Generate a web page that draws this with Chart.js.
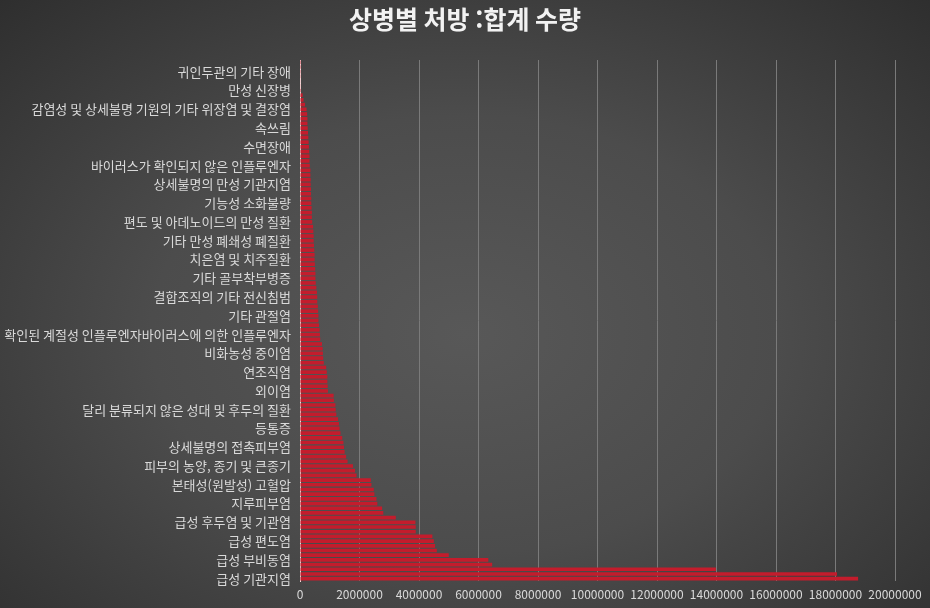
<!DOCTYPE html>
<html lang="ko">
<head>
<meta charset="utf-8">
<title>상병별 처방 :합계 수량</title>
<script src="https://cdn.jsdelivr.net/npm/chart.js@4/dist/chart.umd.min.js"></script>
<style>
  html, body { margin: 0; padding: 0; }
  body {
    width: 930px; height: 608px; overflow: hidden;
    background: radial-gradient(ellipse 75% 80% at 50% 55%, #585858 0%, #4c4c4c 45%, #2c2c2c 100%);
  }
  canvas { display: block; }
</style>
</head>
<body>
<canvas id="chart" width="930" height="608"></canvas>
<script>
// category labels shown on the axis (every 4th category, from the bottom up)
const shownNames = [
  '급성 기관지염', '급성 부비동염', '급성 편도염', '급성 후두염 및 기관염', '지루피부염',
  '본태성(원발성) 고혈압', '피부의 농양, 종기 및 큰종기', '상세불명의 접촉피부염', '등통증',
  '달리 분류되지 않은 성대 및 후두의 질환', '외이염', '연조직염', '비화농성 중이염',
  '확인된 계절성 인플루엔자바이러스에 의한 인플루엔자', '기타 관절염', '결합조직의 기타 전신침범',
  '기타 골부착부병증', '치은염 및 치주질환', '기타 만성 폐쇄성 폐질환', '편도 및 아데노이드의 만성 질환',
  '기능성 소화불량', '상세불명의 만성 기관지염', '바이러스가 확인되지 않은 인플루엔자', '수면장애',
  '속쓰림', '감염성 및 상세불명 기원의 기타 위장염 및 결장염', '만성 신장병', '귀인두관의 기타 장애'
];

// 합계 수량, largest first (bottom of the chart)
const quantities = [
  18760000, 18050000, 13980000, 6460000, 6330000, 5000000, 4600000, 4540000, 4500000, 4450000,
  3890000, 3890000, 3880000, 3220000, 2800000, 2760000, 2600000, 2570000, 2500000, 2480000,
  2400000, 2380000, 1900000, 1850000, 1780000, 1600000, 1550000, 1500000, 1480000, 1460000,
  1420000, 1360000, 1330000, 1310000, 1280000, 1220000, 1200000, 1190000, 1140000, 1130000,
  940000, 930000, 920000, 920000, 900000, 880000, 800000, 780000, 770000, 760000,
  740000, 680000, 670000, 660000, 640000, 620000, 620000, 610000, 600000, 580000,
  580000, 570000, 550000, 530000, 520000, 520000, 510000, 500000, 490000, 490000,
  480000, 470000, 460000, 460000, 450000, 440000, 410000, 400000, 400000, 390000,
  380000, 380000, 370000, 370000, 360000, 360000, 350000, 350000, 330000, 320000,
  320000, 310000, 300000, 290000, 280000, 270000, 260000, 250000, 250000, 240000,
  220000, 170000, 120000, 90000, 30000, 20000, 15000, 10000, 8000, 5000, 3000
];

const xTicks = [0, 2000000, 4000000, 6000000, 8000000, 10000000, 12000000, 14000000, 16000000, 18000000, 20000000];

// hidden categories get an empty label, only every 4th one is printed
const categories = quantities.map((q, i) => i % 4 === 0 ? shownNames[i / 4] : '');

const FONT = '"Noto Sans CJK KR", "Noto Sans", sans-serif';

new Chart(document.getElementById('chart'), {
  type: 'bar',
  data: {
    labels: categories,
    datasets: [{
      label: '합계 수량',
      data: quantities,
      backgroundColor: 'rgb(196, 28, 44)',
      borderWidth: 0,
      barPercentage: 0.78,
      categoryPercentage: 1.0
    }]
  },
  options: {
    indexAxis: 'y',
    responsive: false,
    animation: false,
    devicePixelRatio: 1,
    layout: { padding: { left: 0, right: 0, top: 4, bottom: 0 } },
    plugins: {
      legend: { display: false },
      tooltip: { enabled: false },
      title: {
        display: true,
        text: '상병별 처방 :합계 수량',
        color: '#f2f2f2',
        font: { family: FONT, size: 25, weight: 'bold' },
        padding: { top: 0, bottom: 26 }
      }
    },
    scales: {
      x: {
        min: 0,
        max: 20000000,
        afterBuildTicks: scale => { scale.ticks = xTicks.map(v => ({ value: v })); },
        afterFit: scale => { scale.height = 27; },
        grid: { color: '#7a7a7a', lineWidth: 1, drawTicks: false },
        border: { display: false },
        ticks: {
          color: '#d9d9d9',
          padding: 6,
          font: { family: FONT, size: 12 },
          callback: v => String(v)
        }
      },
      y: {
        reverse: true,
        afterFit: scale => { scale.width = 300; },
        grid: { display: false, drawTicks: false },
        border: { display: true, color: '#f2d6d6', width: 1 },
        ticks: {
          autoSkip: false,
          color: '#d9d9d9',
          padding: 9,
          font: { family: FONT, size: 13 }
        }
      },
      // empty right-hand strip so the title stays centred on the whole canvas
      yRight: {
        type: 'category',
        position: 'right',
        afterFit: scale => { scale.width = 35; },
        grid: { display: false, drawTicks: false },
        border: { display: false },
        ticks: { display: false }
      }
    }
  }
});
</script>
</body>
</html>
